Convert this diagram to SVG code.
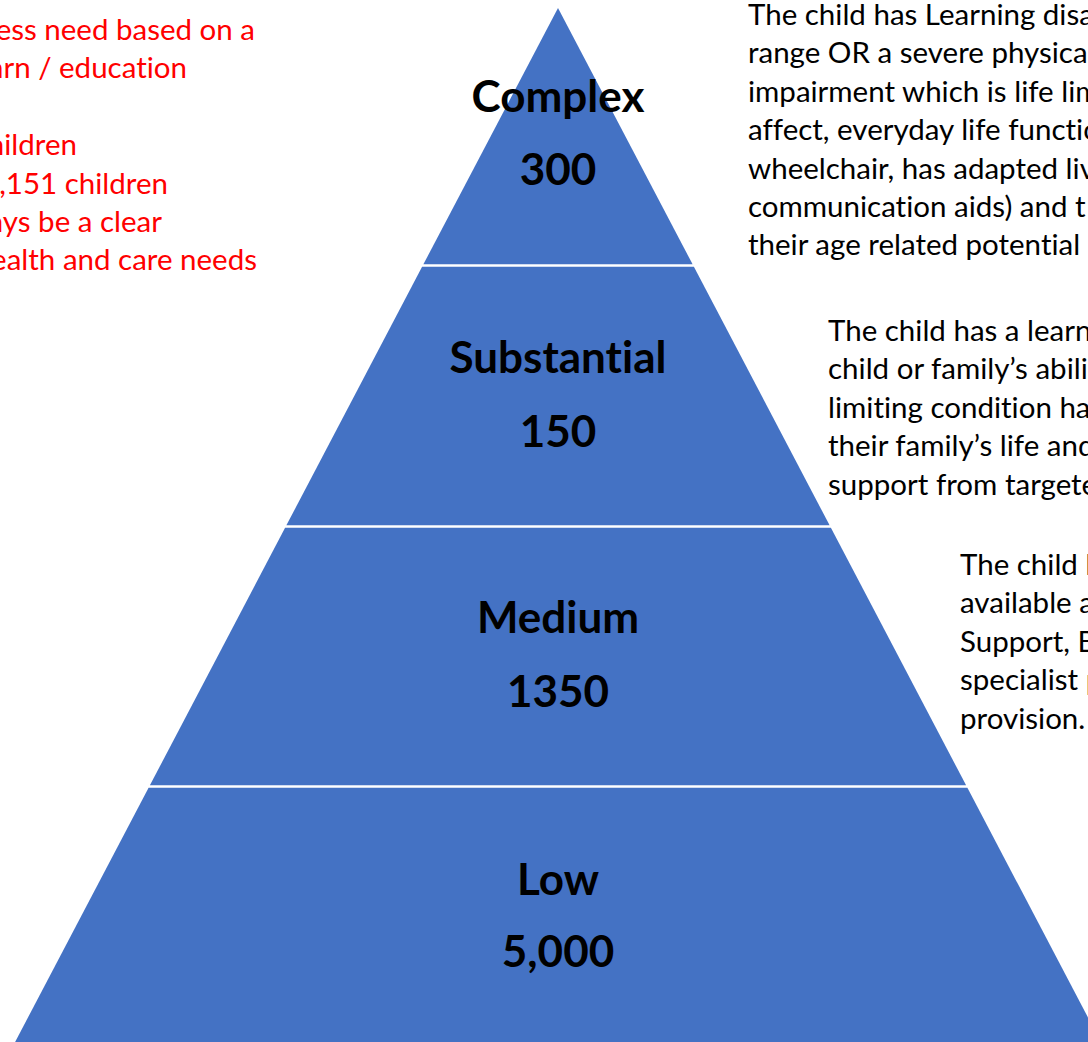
<svg xmlns="http://www.w3.org/2000/svg" width="1088" height="1042" viewBox="0 0 1088 1042">
<style>
.tier{fill:#4472C4;}
text{font-variant-ligatures:none;}
.lbl{font-family:Lato,"Liberation Sans",sans-serif;font-weight:bold;font-size:44px;fill:#000;text-anchor:middle;}
.body{font-family:Lato,"Liberation Sans",sans-serif;font-size:29.5px;fill:#000;}
.red{font-family:Lato,"Liberation Sans",sans-serif;font-size:29.5px;fill:#FF0000;text-anchor:end;}
</style>
<rect width="1088" height="1042" fill="#fff"/>
<g id="tier-complex">
<polygon class="tier" points="558,8 692.6,264.3 423.4,264.3"/>
<text class="lbl" x="558" y="112">Complex</text>
<text class="lbl" x="558" y="185">300</text>
</g>
<g id="tier-substantial">
<polygon class="tier" points="422.1,266.8 693.9,266.8 829.6,525.3 286.4,525.3"/>
<text class="lbl" x="558" y="373">Substantial</text>
<text class="lbl" x="558" y="447">150</text>
</g>
<g id="tier-medium">
<polygon class="tier" points="285.1,527.8 830.9,527.8 966.1,785.3 149.9,785.3"/>
<text class="lbl" x="558" y="633">Medium</text>
<text class="lbl" x="558" y="707">1350</text>
</g>
<g id="tier-low">
<polygon class="tier" points="148.6,787.8 967.4,787.8 1100.9,1042 15.1,1042"/>
<text class="lbl" x="558" y="895">Low</text>
<text class="lbl" x="558" y="967">5,000</text>
</g>
<g id="note-left">
<text class="red" x="255" y="40">ess need based on a</text>
<text class="red" x="187" y="78.4">arn / education</text>
<text class="red" x="77" y="155.2">hildren</text>
<text class="red" x="168" y="193.6">,151 children</text>
<text class="red" x="162" y="232">ays be a clear</text>
<text class="red" x="257" y="270.4">ealth and care needs</text>
</g>
<g id="desc-complex">
<text class="body" x="748" y="25">The child has Learning disa</text>
<text class="body" x="748" y="63.4">range OR a severe physical</text>
<text class="body" x="748" y="101.8">impairment which is life lim</text>
<text class="body" x="748" y="140.2">affect, everyday life functio</text>
<text class="body" x="748" y="178.6">wheelchair, has adapted liv</text>
<text class="body" x="748" y="217">communication aids) and t</text>
<text class="body" x="748" y="255.4">their age related potential</text>
</g>
<g id="desc-substantial">
<text class="body" x="828" y="341">The child has a learn</text>
<text class="body" x="828" y="379.4">child or family’s abili</text>
<text class="body" x="828" y="417.8">limiting condition ha</text>
<text class="body" x="828" y="456.2">their family’s life and</text>
<text class="body" x="828" y="494.6">support from targete</text>
</g>
<g id="desc-medium">
<text class="body" x="960" y="575">The child h</text>
<text class="body" x="960" y="613.4">available a</text>
<text class="body" x="960" y="651.8">Support, B</text>
<text class="body" x="960" y="690.2">specialist p</text>
<text class="body" x="960" y="728.6">provision.</text>
</g>
</svg>
